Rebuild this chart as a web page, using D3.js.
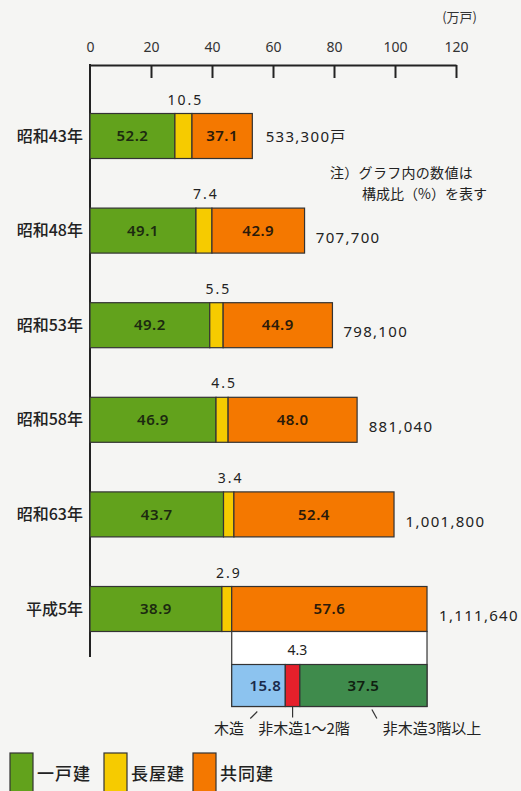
<!DOCTYPE html>
<html>
<head>
<meta charset="utf-8">
<script src="https://cdn.jsdelivr.net/npm/d3@7"></script>
<style>
  body { margin: 0; background: #f5f5f3; }
  svg { display: block; font-family: "Noto Sans CJK JP", "Noto Sans", sans-serif; }
</style>
</head>
<body>
<div id="chart"></div>
<script>
// data
var years = ["昭和43年", "昭和48年", "昭和53年", "昭和58年", "昭和63年", "平成5年"];
var totals = [533300, 707700, 798100, 881040, 1001800, 1111640];
var totalLabels = ["533,300戸", "707,700", "798,100", "881,040", "1,001,800", "1,111,640"];
var detached = [52.2, 49.1, 49.2, 46.9, 43.7, 38.9];
var rowHouse = [10.5, 7.4, 5.5, 4.5, 3.4, 2.9];
var collective = [37.1, 42.9, 44.9, 48.0, 52.4, 57.6];
var ticks = [0, 20, 40, 60, 80, 100, 120];
var typeNames = ["一戸建", "長屋建", "共同建"];
var subNames = ["木造", "非木造1～2階", "非木造3階以上"];
var subValues = [15.8, 4.3, 37.5];

var W = 521, H = 791;
var typeColors = ["#62a21c", "#f6cb00", "#f47800"];
var subColors = ["#8cc3ef", "#e5202b", "#3f8b4c"];
var numFont = "'Noto Sans', sans-serif";

var svg = d3.select("#chart").append("svg").attr("width", W).attr("height", H);

var x = d3.scaleLinear().domain([0, 120]).range([90, 456]);
var y = d3.scalePoint().domain(years).range([136, 609]);
var barH = 45;

// top axis
var axis = svg.append("g")
    .attr("transform", "translate(0,65)")
    .call(d3.axisTop(x).tickValues(ticks).tickSize(-13).tickSizeOuter(0).tickPadding(13));
axis.select(".domain").attr("stroke", "#222").attr("stroke-width", 2);
axis.selectAll(".tick line").attr("stroke", "#222").attr("stroke-width", 2)
    .attr("display", function(d) { return d == 0 ? "none" : null; });
axis.selectAll(".tick text").attr("font-size", 14).attr("fill", "#333")
    .attr("font-family", numFont);

svg.append("text").attr("x", 477).attr("y", 22).attr("text-anchor", "end")
    .attr("font-size", 13).attr("fill", "#333").text("(万戸)");

svg.append("line").attr("x1", x(0)).attr("x2", x(0)).attr("y1", 64).attr("y2", 657)
    .attr("stroke", "#222").attr("stroke-width", 2);

var rows = years.map(function(yr, i) {
  var t = totals[i] / 10000;
  var a = detached[i] / 100 * t, b = rowHouse[i] / 100 * t, c = collective[i] / 100 * t;
  return {year: yr, i: i, total: t, segs: [[0, a], [a, a + b], [a + b, a + b + c]],
    vals: [detached[i], rowHouse[i], collective[i]]};
});

var g = svg.selectAll(".row").data(rows).enter().append("g").attr("class", "row");

g.selectAll("rect").data(function(d) { return d.segs.map(function(s, k) { return {s: s, k: k, yr: d.year}; }); })
  .enter().append("rect")
  .attr("x", function(d) { return x(d.s[0]); })
  .attr("width", function(d) { return x(d.s[1]) - x(d.s[0]); })
  .attr("y", function(d) { return y(d.yr) - barH / 2; })
  .attr("height", barH)
  .attr("fill", function(d) { return typeColors[d.k]; })
  .attr("stroke", "#333").attr("stroke-width", 1.2);

g.append("text")
  .attr("x", 83).attr("y", function(d) { return y(d.year); }).attr("dy", "0.35em")
  .attr("text-anchor", "end").attr("font-size", 16).attr("font-weight", 500).attr("fill", "#222")
  .text(function(d) { return d.year; });

// 一戸建 and 共同建 values inside, 長屋建 above
g.append("text")
  .attr("x", function(d) { return (x(d.segs[0][0]) + x(d.segs[0][1])) / 2; })
  .attr("y", function(d) { return y(d.year); }).attr("dy", "0.35em")
  .attr("text-anchor", "middle").attr("font-size", 15).attr("font-weight", 600).attr("fill", "#1c2a10")
  .attr("font-family", numFont).attr("letter-spacing", 0.5)
  .text(function(d) { return d.vals[0].toFixed(1); });
g.append("text")
  .attr("x", function(d) { return (x(d.segs[2][0]) + x(d.segs[2][1])) / 2; })
  .attr("y", function(d) { return y(d.year); }).attr("dy", "0.35em")
  .attr("text-anchor", "middle").attr("font-size", 15).attr("font-weight", 600).attr("fill", "#2a1a0a")
  .attr("font-family", numFont).attr("letter-spacing", 0.5)
  .text(function(d) { return d.vals[2].toFixed(1); });
g.append("text")
  .attr("x", function(d) { return (x(d.segs[1][0]) + x(d.segs[1][1])) / 2 + 2; })
  .attr("y", function(d) { return y(d.year) - barH / 2 - 9; })
  .attr("text-anchor", "middle").attr("font-size", 14).attr("fill", "#222")
  .attr("font-family", numFont).attr("letter-spacing", 2)
  .text(function(d) { return d.vals[1].toFixed(1); });

g.append("text")
  .attr("x", function(d) { return x(d.total) + (d.i == 0 ? 13 : 10); })
  .attr("y", function(d) { return y(d.year) + (d.i == 0 ? 1 : 7); }).attr("dy", "0.35em")
  .attr("font-size", 15).attr("fill", "#222").attr("letter-spacing", 1.3)
  .attr("font-family", "'Noto Sans', 'Noto Sans CJK JP', sans-serif")
  .text(function(d) { return totalLabels[d.i]; });

// note
svg.append("text").attr("x", 330).attr("y", 178).attr("font-size", 14).attr("fill", "#222")
  .attr("letter-spacing", 0.3).text("注）グラフ内の数値は");
svg.append("text").attr("x", 487).attr("y", 199).attr("text-anchor", "end").attr("font-size", 14).attr("fill", "#222")
  .text("構成比（%）を表す");

// breakdown of 共同建 in 平成5年
var last = rows[rows.length - 1];
var x0 = last.segs[2][0];
var yTop = y(last.year) + barH / 2;
var subTop = yTop + 33, subH = 42;
svg.append("rect").attr("x", x(x0)).attr("y", yTop).attr("width", x(last.segs[2][1]) - x(x0))
  .attr("height", subTop + subH - yTop).attr("fill", "#fff").attr("stroke", "#333").attr("stroke-width", 1.2);

var acc = x0;
var subs = subValues.map(function(v, k) {
  var w = v / 100 * last.total;
  var s = {k: k, v: v, a: acc, b: acc + w};
  acc += w;
  return s;
});
svg.selectAll(".sub").data(subs).enter().append("rect").attr("class", "sub")
  .attr("x", function(d) { return x(d.a); })
  .attr("width", function(d) { return x(d.b) - x(d.a); })
  .attr("y", subTop).attr("height", subH)
  .attr("fill", function(d) { return subColors[d.k]; })
  .attr("stroke", "#333").attr("stroke-width", 1.2);

svg.append("text").attr("x", x(subs[1].a) + 12).attr("y", subTop - 10)
  .attr("text-anchor", "middle").attr("font-size", 14).attr("fill", "#222")
  .attr("font-family", numFont).text(subValues[1].toFixed(1));
svg.append("text").attr("x", x(subs[0].b) - 4).attr("y", subTop + subH / 2).attr("dy", "0.35em")
  .attr("text-anchor", "end").attr("font-size", 15).attr("font-weight", 600).attr("fill", "#1a2a4a")
  .attr("font-family", numFont).attr("letter-spacing", 0.5).text(subValues[0].toFixed(1));
svg.append("text").attr("x", (x(subs[2].a) + x(subs[2].b)) / 2).attr("y", subTop + subH / 2).attr("dy", "0.35em")
  .attr("text-anchor", "middle").attr("font-size", 15).attr("font-weight", 600).attr("fill", "#102010")
  .attr("font-family", numFont).attr("letter-spacing", 0.5).text(subValues[2].toFixed(1));

var subBottom = subTop + subH;
var leaders = [
  {x1: x(subs[0].b) - 28, y1: subBottom + 5, x2: x(subs[0].b) - 35, y2: subBottom + 12, tx: 229},
  {x1: (x(subs[1].a) + x(subs[1].b)) / 2, y1: subBottom, x2: (x(subs[1].a) + x(subs[1].b)) / 2, y2: subBottom + 11, tx: 304},
  {x1: x(subs[2].a) + 72, y1: subBottom + 3, x2: x(subs[2].a) + 77, y2: subBottom + 12, tx: 432}
];
svg.selectAll(".leader").data(leaders).enter().append("line").attr("class", "leader")
  .attr("x1", function(d) { return d.x1; }).attr("y1", function(d) { return d.y1; })
  .attr("x2", function(d) { return d.x2; }).attr("y2", function(d) { return d.y2; })
  .attr("stroke", "#333").attr("stroke-width", 1.2);
svg.selectAll(".subname").data(subNames).enter().append("text").attr("class", "subname")
  .attr("x", function(d, k) { return leaders[k].tx; }).attr("y", subBottom + 27)
  .attr("text-anchor", "middle").attr("font-size", 15).attr("fill", "#222")
  .text(function(d) { return d; });

// legend
var lg = svg.selectAll(".legend").data(typeNames).enter().append("g").attr("class", "legend")
  .attr("transform", function(d, k) { return "translate(" + [10, 104, 193][k] + ",753)"; });
lg.append("rect").attr("width", 23).attr("height", 45)
  .attr("fill", function(d, k) { return typeColors[k]; })
  .attr("stroke", "#333").attr("stroke-width", 1.2);
lg.append("text").attr("x", 27).attr("y", 27).attr("font-size", 17).attr("font-weight", 500)
  .attr("fill", "#222").attr("letter-spacing", 1)
  .text(function(d) { return d; });
</script>
</body>
</html>
